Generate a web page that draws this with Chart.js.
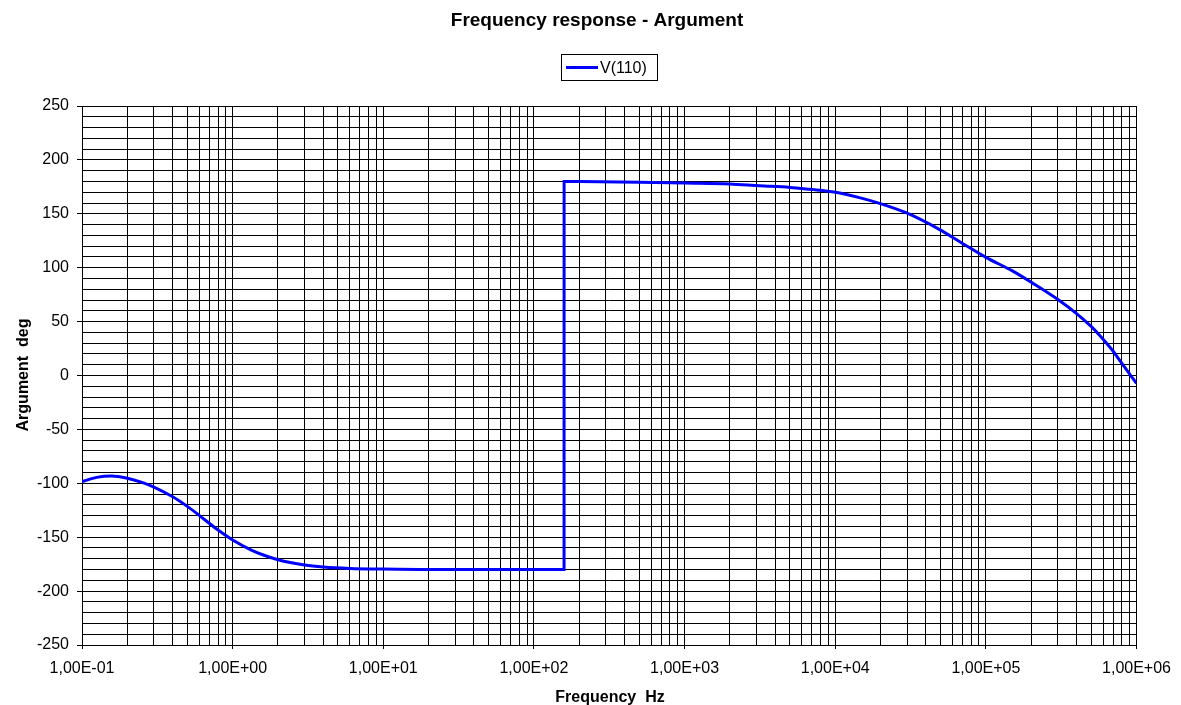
<!DOCTYPE html>
<html><head><meta charset="utf-8">
<script src="https://cdn.jsdelivr.net/npm/chart.js@4.4.1/dist/chart.umd.min.js"></script>
<style>html,body{margin:0;padding:0;background:#fff}canvas{display:block}</style>
</head><body>
<canvas id="c" width="1181" height="705"></canvas>
<script>
const chartTitle = 'Frequency response - Argument';
const seriesName = 'V(110)';
const xAxisTitle = 'Frequency  Hz';
const yAxisTitle = 'Argument  deg';

const freqHz = [0.1, 0.125, 0.157, 0.2, 0.25, 0.3, 0.4, 0.5, 0.6, 0.7, 0.8, 1.0, 1.33, 1.6, 2.0, 3.0, 4.0, 6.0, 10, 20, 50, 100, 158.5,
  158.6, 200, 500, 1000, 2000, 3140, 5000, 6750, 10000, 14450, 19700, 29500, 49000, 70000, 100000, 150000, 204000, 307000, 398000, 500000, 566000, 700000, 769000, 1000000];
const phaseDeg = [-98.5, -94.5, -93.2, -95.3, -99.2, -103.5, -112.5, -121.4, -129.7, -137.1, -143.4, -152.6, -161.9, -166.5, -170.9, -175.8, -177.7, -179, -179.6, -180, -180, -180, -180,
  180, 179.9, 179.2, 178.5, 177.7, 176, 174.5, 172.7, 170, 165, 159.7, 151, 135.6, 122.5, 109.6, 97, 85.7, 69.6, 57.7, 45.5, 37.6, 22.5, 14.4, -7.2];

const xDecades = [0.1, 1, 10, 100, 1000, 10000, 100000, 1000000];
const xTickLabels = ['1,00E-01', '1,00E+00', '1,00E+01', '1,00E+02', '1,00E+03', '1,00E+04', '1,00E+05', '1,00E+06'];
const yTickValues = [-250, -200, -150, -100, -50, 0, 50, 100, 150, 200, 250];
const yTickLabels = ['-250', '-200', '-150', '-100', '-50', '0', '50', '100', '150', '200', '250'];
const yMinorStep = 10;

const points = freqHz.map((f, i) => ({x: f, y: phaseDeg[i]}));

const xGridValues = [];
xDecades.forEach((d, i) => {
  if (i === xDecades.length - 1) { xGridValues.push(d); return; }
  for (let k = 1; k <= 9; k++) xGridValues.push(d * k);
});
const yGridValues = [];
for (let v = yTickValues[0]; v <= yTickValues[yTickValues.length - 1]; v += yMinorStep) yGridValues.push(v);

function decadeIndex(v) {
  for (let i = 0; i < xDecades.length; i++) if (Math.abs(v / xDecades[i] - 1) < 1e-9) return i;
  return -1;
}
function yIndex(v) { return yTickValues.indexOf(Math.round(v)); }

const textPlugin = {
  id: 'texts',
  afterDraw(chart) {
    const ctx = chart.ctx;
    ctx.save();
    ctx.fillStyle = '#000';
    ctx.textBaseline = 'alphabetic';
    ctx.font = 'bold 19px "Liberation Sans", Arial, sans-serif';
    ctx.textAlign = 'center';
    ctx.fillText(chartTitle, 597, 26);
    // legend
    ctx.strokeStyle = '#000';
    ctx.lineWidth = 1;
    ctx.strokeRect(561.5, 54.5, 96, 26);
    ctx.strokeStyle = '#0000FF';
    ctx.lineWidth = 3;
    ctx.beginPath(); ctx.moveTo(566, 67.5); ctx.lineTo(598, 67.5); ctx.stroke();
    ctx.font = '16px "Liberation Sans", Arial, sans-serif';
    ctx.textAlign = 'left';
    ctx.fillText(seriesName, 600, 73);
    // axis titles
    ctx.font = 'bold 16px "Liberation Sans", Arial, sans-serif';
    ctx.textAlign = 'center';
    ctx.fillText(xAxisTitle, 610, 702);
    ctx.translate(28, 375);
    ctx.rotate(-Math.PI / 2);
    ctx.fillText(yAxisTitle, 0, 0);
    ctx.restore();
  }
};

new Chart(document.getElementById('c'), {
  type: 'scatter',
  data: {
    datasets: [{
      label: seriesName,
      data: points,
      showLine: true,
      borderColor: '#0000FF',
      backgroundColor: '#0000FF',
      borderWidth: 3,
      pointRadius: 0,
      cubicInterpolationMode: 'monotone'
    }]
  },
  options: {
    responsive: false,
    devicePixelRatio: 1,
    animation: false,
    layout: {padding: {left: 0, top: 106, right: 43, bottom: 0}},
    plugins: {legend: {display: false}, title: {display: false}, tooltip: {enabled: false}},
    scales: {
      x: {
        type: 'logarithmic',
        min: 0.1, max: 1000000,
        afterBuildTicks: s => { s.ticks = xGridValues.map(v => ({value: v})); },
        afterFit: s => { s.height = 60; },
        border: {display: true, color: '#000', width: 1},
        grid: {
          color: '#000', lineWidth: 1, tickLength: 4,
          tickColor: c => (c.tick && decadeIndex(c.tick.value) >= 0) ? '#000' : 'rgba(0,0,0,0)'
        },
        ticks: {
          autoSkip: false, maxRotation: 0, minRotation: 0, padding: 10,
          color: '#000', font: {family: '"Liberation Sans", Arial, sans-serif', size: 16},
          callback: v => { const i = decadeIndex(v); return i >= 0 ? xTickLabels[i] : ''; }
        }
      },
      y: {
        type: 'linear',
        min: -250, max: 250,
        afterBuildTicks: s => { s.ticks = yGridValues.map(v => ({value: v})); },
        afterFit: s => { s.width = 82; },
        border: {display: true, color: '#000', width: 1},
        grid: {
          color: '#000', lineWidth: 1, tickLength: 5,
          tickColor: c => (c.tick && yIndex(c.tick.value) >= 0) ? '#000' : 'rgba(0,0,0,0)'
        },
        ticks: {
          autoSkip: false, padding: 8,
          color: '#000', font: {family: '"Liberation Sans", Arial, sans-serif', size: 16},
          callback: v => { const i = yIndex(v); return i >= 0 ? yTickLabels[i] : ''; }
        }
      }
    }
  },
  plugins: [textPlugin]
});
</script>
</body></html>
